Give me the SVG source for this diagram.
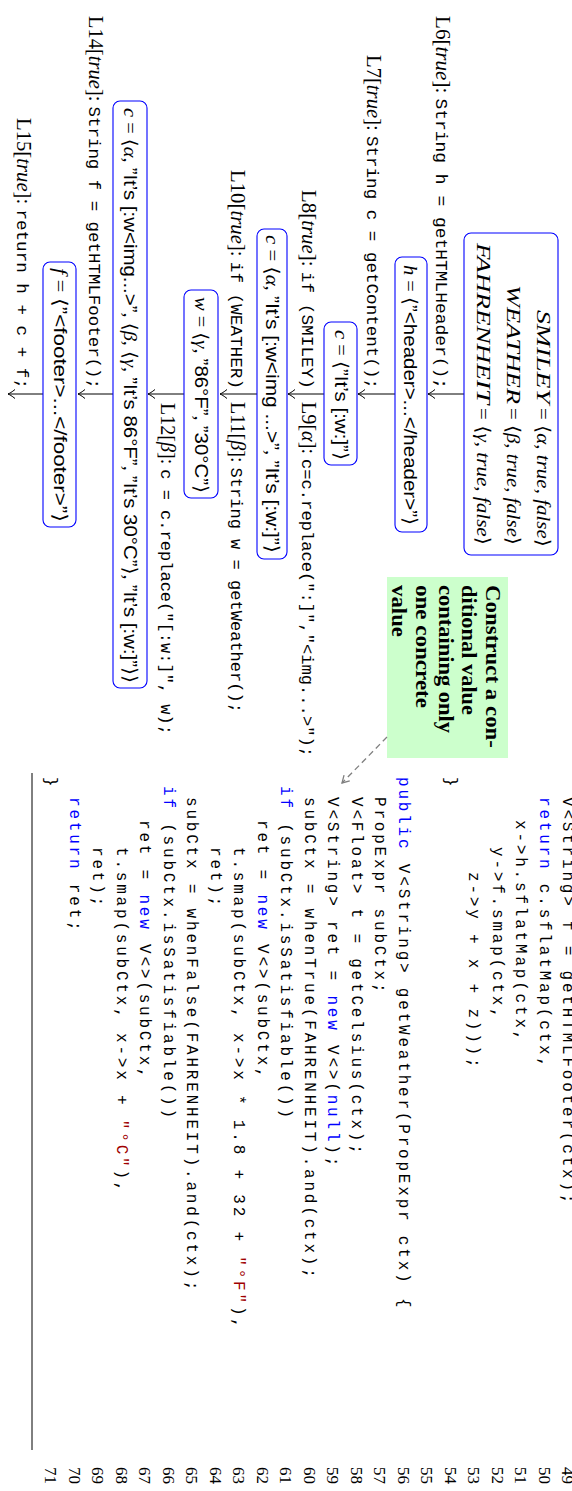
<svg xmlns="http://www.w3.org/2000/svg" width="572" height="1491" viewBox="0 0 572 1491">
<style>
  .m { font-family: "Liberation Serif", "DejaVu Serif", serif; font-size: 19px; fill: #000; }
  .lb { font-size: 20px; }
  .it { font-style: italic; }
  .tt { font-family: "Liberation Mono", "DejaVu Sans Mono", monospace; font-size: 17px; }
  .sf { font-family: "Liberation Sans", "DejaVu Sans", sans-serif; }
  .box { fill: #fff; stroke: #0000ff; stroke-width: 1.1; }
  .edge { fill: none; stroke: #000; stroke-width: 1; marker-end: url(#tip); }
  .note { fill: #ccffcc; stroke: none; }
  .notetxt { font-family: "Liberation Serif", serif; font-weight: bold; font-size: 20px; fill: #000; }
  .code { font-family: "Liberation Mono", "DejaVu Sans Mono", monospace; font-size: 16px; letter-spacing: 2.8px; fill: #000; }
  .kw { fill: #0000ff; }
  .str { fill: #a00000; }
  .ln { font-family: "Liberation Serif", serif; font-size: 17px; fill: #000; }
</style>
<defs>
  <marker id="tip" markerUnits="userSpaceOnUse" markerWidth="14" markerHeight="14" viewBox="-8 -7 10 14" refX="0" refY="0" orient="auto">
    <path d="M-7,-4.5 C-4,-2 -1.5,-0.6 0,0 C-1.5,0.6 -4,2 -7,4.5" fill="none" stroke="#000" stroke-width="1"/>
  </marker>
  <marker id="gtip" markerUnits="userSpaceOnUse" markerWidth="14" markerHeight="14" viewBox="-8 -7 10 14" refX="0" refY="0" orient="auto">
    <path d="M-7,-4 L0,0 L-7,4" fill="none" stroke="#808080" stroke-width="1.3"/>
  </marker>
</defs>
<rect x="0" y="0" width="572" height="1491" fill="#fff"/>

<!-- landscape page, turned a quarter clockwise -->
<g transform="translate(572 0) rotate(90)">

  <!-- flow edges with statement labels -->
  <g id="edges">
    <line class="edge" x1="394" y1="108" x2="394" y2="144"/>
    <line class="edge" x1="394" y1="177" x2="394" y2="214"/>
    <line class="edge" x1="394" y1="248" x2="394" y2="284"/>
    <line class="edge" x1="394" y1="315" x2="394" y2="352"/>
    <line class="edge" x1="394" y1="388" x2="394" y2="424"/>
    <line class="edge" x1="394" y1="459" x2="394" y2="494"/>
    <line class="edge" x1="394" y1="529" x2="394" y2="564"/>

    <text class="m lb" x="16" y="136" textLength="373" lengthAdjust="spacingAndGlyphs">L6[<tspan class="it">true</tspan>]: <tspan class="tt">String h = getHTMLHeader();</tspan></text>
    <text class="m lb" x="55" y="205" textLength="334" lengthAdjust="spacingAndGlyphs">L7[<tspan class="it">true</tspan>]: <tspan class="tt">String c = getContent();</tspan></text>
    <text class="m lb" x="190" y="270" textLength="199" lengthAdjust="spacingAndGlyphs">L8[<tspan class="it">true</tspan>]: <tspan class="tt">if (SMILEY)</tspan></text>
    <text class="m lb" x="402" y="270" textLength="355" lengthAdjust="spacingAndGlyphs">L9[<tspan class="it">α</tspan>]: <tspan class="tt">c=c.replace(":]","&lt;img...&gt;");</tspan></text>
    <text class="m lb" x="170" y="341" textLength="219" lengthAdjust="spacingAndGlyphs">L10[<tspan class="it">true</tspan>]: <tspan class="tt">if (WEATHER)</tspan></text>
    <text class="m lb" x="402" y="341" textLength="311" lengthAdjust="spacingAndGlyphs">L11[<tspan class="it">β</tspan>]: <tspan class="tt">String w = getWeather();</tspan></text>
    <text class="m lb" x="403" y="411" textLength="332" lengthAdjust="spacingAndGlyphs">L12[<tspan class="it">β</tspan>]: <tspan class="tt">c = c.replace("[:w:]", w);</tspan></text>
    <text class="m lb" x="16" y="483" textLength="373" lengthAdjust="spacingAndGlyphs">L14[<tspan class="it">true</tspan>]: <tspan class="tt">String f = getHTMLFooter();</tspan></text>
    <text class="m lb" x="118" y="555" textLength="271" lengthAdjust="spacingAndGlyphs">L15[<tspan class="it">true</tspan>]: <tspan class="tt">return h + c + f;</tspan></text>
  </g>

  <!-- initial feature context -->
  <g id="ctx0">
    <rect class="box" x="233" y="14" width="322" height="94" rx="7"/>
    <text class="m it" x="404" y="35.5" text-anchor="end" textLength="94" lengthAdjust="spacingAndGlyphs">SMILEY</text>
    <text class="m" x="408" y="35.5" textLength="139" lengthAdjust="spacingAndGlyphs">= ⟨<tspan class="it">α</tspan>, <tspan class="it">true</tspan>, <tspan class="it">false</tspan>⟩</text>
    <text class="m it" x="404" y="65.5" text-anchor="end" textLength="119" lengthAdjust="spacingAndGlyphs">WEATHER</text>
    <text class="m" x="408" y="65.5" textLength="137" lengthAdjust="spacingAndGlyphs">= ⟨<tspan class="it">β</tspan>, <tspan class="it">true</tspan>, <tspan class="it">false</tspan>⟩</text>
    <text class="m it" x="404" y="95.5" text-anchor="end" textLength="161" lengthAdjust="spacingAndGlyphs">FAHRENHEIT</text>
    <text class="m" x="408" y="95.5" textLength="137" lengthAdjust="spacingAndGlyphs">= ⟨<tspan class="it">γ</tspan>, <tspan class="it">true</tspan>, <tspan class="it">false</tspan>⟩</text>
  </g>

  <g id="h">
    <rect class="box" x="257" y="145" width="275" height="32" rx="7"/>
    <text class="m" x="265" y="168" textLength="260" lengthAdjust="spacingAndGlyphs"><tspan class="it">h</tspan> = ⟨<tspan class="sf">”&lt;header&gt;...&lt;/header&gt;”</tspan>⟩</text>
  </g>

  <g id="c1">
    <rect class="box" x="322" y="215" width="143" height="33" rx="7"/>
    <text class="m" x="330" y="237.5" textLength="130" lengthAdjust="spacingAndGlyphs"><tspan class="it">c</tspan> = ⟨<tspan class="sf">”It’s [:w:]”</tspan>⟩</text>
  </g>

  <g id="c2">
    <rect class="box" x="229" y="285" width="330" height="30" rx="7"/>
    <text class="m" x="235" y="306" textLength="318" lengthAdjust="spacingAndGlyphs"><tspan class="it">c</tspan> = ⟨<tspan class="it">α</tspan>, <tspan class="sf">”It’s [:w&lt;img ...&gt;”</tspan>, <tspan class="sf">”It’s [:w:]”</tspan>⟩</text>
  </g>

  <g id="w">
    <rect class="box" x="290" y="354" width="208" height="34" rx="7"/>
    <text class="m" x="297" y="377" textLength="196" lengthAdjust="spacingAndGlyphs"><tspan class="it">w</tspan> = ⟨<tspan class="it">γ</tspan>, <tspan class="sf">”86°F”</tspan>, <tspan class="sf">”30°C”</tspan>⟩</text>
  </g>

  <g id="c3">
    <rect class="box" x="101" y="425" width="587" height="34" rx="7"/>
    <text class="m" x="108" y="448" textLength="575" lengthAdjust="spacingAndGlyphs"><tspan class="it">c</tspan> = ⟨<tspan class="it">α</tspan>, <tspan class="sf">”It’s [:w&lt;img...&gt;”</tspan>, ⟨<tspan class="it">β</tspan>, ⟨<tspan class="it">γ</tspan>, <tspan class="sf">”It’s 86°F”</tspan>, <tspan class="sf">”It’s 30°C”</tspan>⟩, <tspan class="sf">”It’s [:w:]”</tspan>⟩⟩</text>
  </g>

  <g id="f">
    <rect class="box" x="262" y="496" width="265" height="33" rx="7"/>
    <text class="m" x="268" y="518" textLength="254" lengthAdjust="spacingAndGlyphs"><tspan class="it">f</tspan> = ⟨<tspan class="sf">”&lt;footer&gt;...&lt;/footer&gt;”</tspan>⟩</text>
  </g>

  <!-- annotation -->
  <g id="note">
    <rect class="note" x="577" y="64" width="181" height="121"/>
    <text class="notetxt" x="585" y="86" textLength="163" lengthAdjust="spacingAndGlyphs">Construct a con-</text>
    <text class="notetxt" x="585" y="110" textLength="130" lengthAdjust="spacingAndGlyphs">ditional value</text>
    <text class="notetxt" x="585" y="133" textLength="148" lengthAdjust="spacingAndGlyphs">containing only</text>
    <text class="notetxt" x="585" y="156" textLength="123" lengthAdjust="spacingAndGlyphs">one concrete</text>
    <text class="notetxt" x="585" y="180" textLength="52" lengthAdjust="spacingAndGlyphs">value</text>
    <line x1="737" y1="185" x2="783" y2="230" stroke="#808080" stroke-width="1.3" stroke-dasharray="6 4" marker-end="url(#gtip)"/>
  </g>

  <!-- source listing -->
  <g id="listing">
    <text class="code" x="797" y="9">V&lt;String&gt; f = getHTMLFooter(ctx);</text>
    <text class="code" x="797" y="32.5"><tspan class="kw">return</tspan> c.sflatMap(ctx,</text>
    <text class="code" x="820" y="56">x-&gt;h.sflatMap(ctx,</text>
    <text class="code" x="847" y="79.5">y-&gt;f.smap(ctx,</text>
    <text class="code" x="872" y="103">z-&gt;y + x + z)));</text>
    <text class="code" x="777" y="126.5">}</text>
    <text class="code" x="777" y="173.5"><tspan class="kw">public</tspan> V&lt;String&gt; getWeather(PropExpr ctx) {</text>
    <text class="code" x="797" y="197">PropExpr subCtx;</text>
    <text class="code" x="797" y="220.5">V&lt;Float&gt; t = getCelsius(ctx);</text>
    <text class="code" x="797" y="244">V&lt;String&gt; ret = <tspan class="kw">new</tspan> V&lt;&gt;(<tspan class="kw">null</tspan>);</text>
    <text class="code" x="797" y="267.5">subCtx = whenTrue(FAHRENHEIT).and(ctx);</text>
    <text class="code" x="786" y="291"><tspan class="kw">if</tspan> (subCtx.isSatisfiable())</text>
    <text class="code" x="820" y="314.5">ret = <tspan class="kw">new</tspan> V&lt;&gt;(subCtx,</text>
    <text class="code" x="847" y="338">t.smap(subCtx, x-&gt;x * 1.8 + 32 + <tspan class="str">"°F"</tspan>),</text>
    <text class="code" x="847" y="361.5">ret);</text>
    <text class="code" x="797" y="385">subCtx = whenFalse(FAHRENHEIT).and(ctx);</text>
    <text class="code" x="786" y="408.5"><tspan class="kw">if</tspan> (subCtx.isSatisfiable())</text>
    <text class="code" x="820" y="432">ret = <tspan class="kw">new</tspan> V&lt;&gt;(subCtx,</text>
    <text class="code" x="847" y="455.5">t.smap(subCtx, x-&gt;x + <tspan class="str">"°C"</tspan>),</text>
    <text class="code" x="847" y="479">ret);</text>
    <text class="code" x="797" y="502.5"><tspan class="kw">return</tspan> ret;</text>
    <text class="code" x="777" y="526">}</text>
    <line x1="773" y1="540" x2="1450" y2="540" stroke="#000" stroke-width="1"/>
  </g>

  <!-- line numbers -->
  <g id="linenos" class="ln">
    <text x="1467" y="10">49</text>
    <text x="1467" y="33.5">50</text>
    <text x="1467" y="57">51</text>
    <text x="1467" y="80.5">52</text>
    <text x="1467" y="104">53</text>
    <text x="1467" y="127.5">54</text>
    <text x="1467" y="151">55</text>
    <text x="1467" y="174.5">56</text>
    <text x="1467" y="198">57</text>
    <text x="1467" y="221.5">58</text>
    <text x="1467" y="245">59</text>
    <text x="1467" y="268.5">60</text>
    <text x="1467" y="292">61</text>
    <text x="1467" y="315.5">62</text>
    <text x="1467" y="339">63</text>
    <text x="1467" y="362.5">64</text>
    <text x="1467" y="386">65</text>
    <text x="1467" y="409.5">66</text>
    <text x="1467" y="433">67</text>
    <text x="1467" y="456.5">68</text>
    <text x="1467" y="480">69</text>
    <text x="1467" y="503.5">70</text>
    <text x="1467" y="527">71</text>
  </g>
</g>
</svg>
